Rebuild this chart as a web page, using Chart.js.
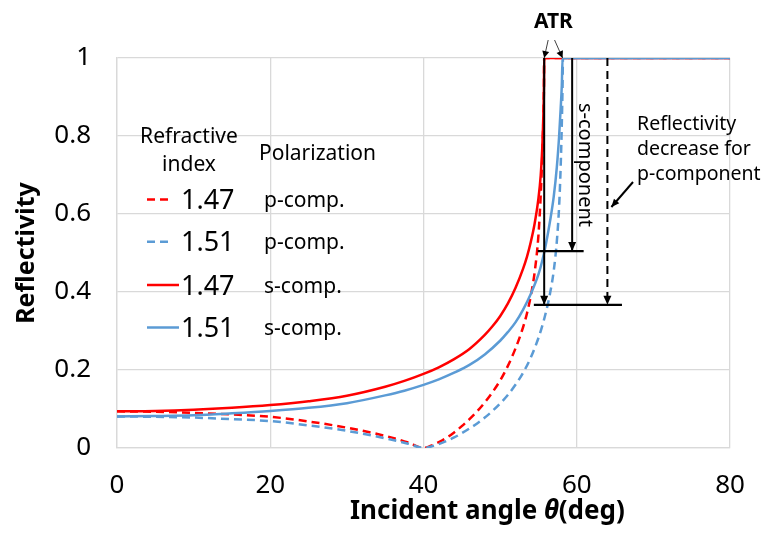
<!DOCTYPE html>
<html>
<head>
<meta charset="utf-8">
<script src="https://cdn.jsdelivr.net/npm/chart.js@4/dist/chart.umd.min.js"></script>
<style>
  html, body { margin: 0; padding: 0; background: #ffffff; }
  #wrap { width: 762px; height: 540px; }
</style>
</head>
<body>
<div id="wrap"><canvas id="c" width="762" height="540"></canvas></div>
<script>
// Reflectivity vs. incident angle for two refractive indices, p- and s-polarization

// n = 1.47, p-component
const angleP147 = [0, 5, 10, 15, 20, 25, 30, 35, 38, 40, 41, 42, 43, 44, 45, 46, 47, 48, 49, 50, 51, 52, 53, 53.5, 54, 54.5, 55, 55.3, 55.5, 55.65, 55.72, 55.75, 60, 70, 80];
const reflP147  = [0.094, 0.093, 0.090, 0.086, 0.080, 0.068, 0.052, 0.031, 0.014, 0.0, 0.006, 0.015, 0.026, 0.040, 0.056, 0.074, 0.094, 0.117, 0.143, 0.173, 0.210, 0.255, 0.310, 0.345, 0.390, 0.450, 0.545, 0.650, 0.750, 0.850, 0.930, 1, 1, 1, 1];

// n = 1.51, p-component
const angleP151 = [0, 5, 10, 15, 20, 25, 30, 35, 38, 40, 41, 42, 43, 44, 45, 46, 47, 48, 49, 50, 51, 52, 53, 54, 55, 55.5, 56, 56.5, 57, 57.4, 57.7, 57.9, 58.05, 58.15, 58.2, 60, 70, 80];
const reflP151  = [0.081, 0.080, 0.078, 0.074, 0.069, 0.058, 0.044, 0.025, 0.011, 0.0, 0.004, 0.010, 0.018, 0.027, 0.038, 0.050, 0.063, 0.078, 0.095, 0.114, 0.136, 0.162, 0.193, 0.232, 0.282, 0.313, 0.350, 0.395, 0.455, 0.530, 0.620, 0.720, 0.830, 0.930, 1, 1, 1, 1];

// n = 1.47, s-component
const angleS147 = [0, 5, 10, 15, 20, 25, 30, 35, 37.5, 40, 42, 44, 46, 48, 49, 50, 51, 52, 53, 53.5, 54, 54.5, 55, 55.3, 55.5, 55.65, 55.72, 55.75, 60, 70, 80];
const reflS147  = [0.094, 0.095, 0.098, 0.103, 0.110, 0.120, 0.134, 0.157, 0.172, 0.190, 0.207, 0.228, 0.254, 0.290, 0.312, 0.338, 0.370, 0.410, 0.460, 0.490, 0.528, 0.575, 0.640, 0.700, 0.770, 0.860, 0.930, 1, 1, 1, 1];

// n = 1.51, s-component
const angleS151 = [0, 5, 10, 15, 20, 25, 30, 35, 37.5, 40, 42, 44, 46, 48, 50, 51, 52, 53, 54, 55, 55.5, 56, 56.5, 57, 57.4, 57.7, 57.9, 58.05, 58.15, 60, 70, 80];
const reflS151  = [0.081, 0.082, 0.084, 0.089, 0.095, 0.103, 0.115, 0.135, 0.147, 0.162, 0.176, 0.193, 0.213, 0.240, 0.275, 0.297, 0.322, 0.355, 0.395, 0.445, 0.480, 0.525, 0.580, 0.645, 0.720, 0.800, 0.870, 0.930, 1, 1, 1, 1];

// Axis ticks
const xTicks = [0, 20, 40, 60, 80];
const yTicks = [0, 0.2, 0.4, 0.6, 0.8, 1];

// Legend rows: index label, polarization label
const legendIndex = ['1.47', '1.51', '1.47', '1.51'];
const legendPol   = ['p-comp.', 'p-comp.', 's-comp.', 's-comp.'];

// Annotation anchors (angle in deg, reflectivity)
const atrEdges   = [55.75, 58.15];
const sDrop      = { angle: 59.4, level: 0.505, bar: [54.9, 60.9] };
const pDrop      = { angle: 64.0, level: 0.367, bar: [54.4, 65.9] };

const RED = '#ff0000';
const BLUE = '#5b9bd5';
const FONT = '"Noto Sans", "Open Sans", sans-serif';

const pts = (xs, ys) => xs.map((v, i) => ({ x: v, y: ys[i] }));

const seriesStyle = (color, dashed, order) => ({
  borderColor: color,
  backgroundColor: color,
  borderWidth: 2.5,
  borderDash: dashed ? [8, 5] : [],
  pointRadius: 0,
  fill: false,
  cubicInterpolationMode: 'monotone',
  order: order
});

const datasets = [
  Object.assign({ label: '1.47 p-comp.', data: pts(angleP147, reflP147) }, seriesStyle(RED, true, 3)),
  Object.assign({ label: '1.51 p-comp.', data: pts(angleP151, reflP151) }, seriesStyle(BLUE, true, 2)),
  Object.assign({ label: '1.47 s-comp.', data: pts(angleS147, reflS147) }, seriesStyle(RED, false, 1)),
  Object.assign({ label: '1.51 s-comp.', data: pts(angleS151, reflS151) }, seriesStyle(BLUE, false, 0))
];

function arrowHead(ctx, x1, y1, x2, y2, len, half) {
  const a = Math.atan2(y2 - y1, x2 - x1);
  ctx.beginPath();
  ctx.moveTo(x2, y2);
  ctx.lineTo(x2 - len * Math.cos(a) + half * Math.sin(a), y2 - len * Math.sin(a) - half * Math.cos(a));
  ctx.lineTo(x2 - len * Math.cos(a) - half * Math.sin(a), y2 - len * Math.sin(a) + half * Math.cos(a));
  ctx.closePath();
  ctx.fill();
}

function arrow(ctx, x1, y1, x2, y2, width, dash, len, half) {
  ctx.save();
  ctx.lineWidth = width;
  ctx.setLineDash(dash || []);
  ctx.beginPath();
  ctx.moveTo(x1, y1);
  ctx.lineTo(x2, y2);
  ctx.stroke();
  ctx.setLineDash([]);
  arrowHead(ctx, x1, y1, x2, y2, len, half);
  ctx.restore();
}

const overlay = {
  id: 'overlay',
  afterDatasetsDraw(chart) {
    const ctx = chart.ctx;
    const xs = chart.scales.x, ys = chart.scales.y;
    const X = v => xs.getPixelForValue(v);
    const Y = v => ys.getPixelForValue(v);
    ctx.save();
    ctx.strokeStyle = '#000';
    ctx.fillStyle = '#000';

    // Drop from the 1.47 critical angle down to the p-component level
    arrow(ctx, X(atrEdges[0]), Y(1), X(atrEdges[0]), Y(pDrop.level), 2, null, 9, 4);
    // s-component decrease
    arrow(ctx, X(sDrop.angle), Y(1), X(sDrop.angle), Y(sDrop.level), 2, null, 9, 4);
    // p-component decrease (dashed)
    arrow(ctx, X(pDrop.angle), Y(1), X(pDrop.angle), Y(pDrop.level), 2, [8, 5], 9, 4);

    // Reference bars
    ctx.lineWidth = 2.2;
    ctx.beginPath();
    ctx.moveTo(X(sDrop.bar[0]), Y(sDrop.level));
    ctx.lineTo(X(sDrop.bar[1]), Y(sDrop.level));
    ctx.moveTo(X(pDrop.bar[0]), Y(pDrop.level));
    ctx.lineTo(X(pDrop.bar[1]), Y(pDrop.level));
    ctx.stroke();

    // ATR pointers
    ctx.strokeStyle = '#404040';
    arrow(ctx, X(atrEdges[0]) + 4, Y(1) - 18, X(atrEdges[0]), Y(1), 1, null, 7, 3.5);
    arrow(ctx, X(atrEdges[1]) - 8, Y(1) - 18, X(atrEdges[1]), Y(1), 1, null, 7, 3.5);
    ctx.fillStyle = '#000';
    ctx.font = 'bold 21px ' + FONT;
    ctx.textAlign = 'center';
    ctx.textBaseline = 'middle';
    ctx.fillText('ATR', (X(atrEdges[0]) + X(atrEdges[1])) / 2, 22);

    // s-component label (rotated)
    ctx.save();
    ctx.translate(585, 165);
    ctx.rotate(Math.PI / 2);
    ctx.font = '20px ' + FONT;
    ctx.fillText('s-component', 0, 0);
    ctx.restore();

    // p-component note
    ctx.font = '19.5px ' + FONT;
    ctx.textAlign = 'left';
    ctx.textBaseline = 'alphabetic';
    ctx.fillText('Reflectivity', 637, 130);
    ctx.fillText('decrease for', 637, 155);
    ctx.fillText('p-component', 637, 180);
    ctx.strokeStyle = '#000';
    arrow(ctx, 633, 182, X(pDrop.angle) + 4, 207, 2, null, 8, 3.5);

    // Legend block
    ctx.font = '21px ' + FONT;
    ctx.textAlign = 'center';
    ctx.fillText('Refractive', 189, 143);
    ctx.fillText('index', 189, 171);
    ctx.textAlign = 'left';
    ctx.fillText('Polarization', 259, 160);

    const rowY = [199.5, 241.8, 285, 327.5];
    chart.data.datasets.forEach((ds, i) => {
      const yy = rowY[i];
      ctx.save();
      ctx.strokeStyle = ds.borderColor;
      ctx.lineWidth = 2.5;
      ctx.setLineDash(ds.borderDash);
      ctx.beginPath();
      ctx.moveTo(147, yy);
      ctx.lineTo(ds.borderDash.length ? 172 : 179, yy);
      ctx.stroke();
      ctx.restore();
      ctx.fillStyle = '#000';
      ctx.font = '27px ' + FONT;
      ctx.fillText(legendIndex[i], 181, yy + 9.5);
      ctx.font = '21px ' + FONT;
      ctx.fillText(legendPol[i], 264, yy + 7.5);
    });

    // Axis titles
    ctx.save();
    ctx.translate(27, (chart.chartArea.top + chart.chartArea.bottom) / 2);
    ctx.rotate(-Math.PI / 2);
    ctx.font = 'bold 25px ' + FONT;
    ctx.textAlign = 'center';
    ctx.textBaseline = 'middle';
    ctx.fillText('Reflectivity', 0, 0);
    ctx.restore();

    let tx = 350;
    const by = 519;
    ctx.textAlign = 'left';
    ctx.textBaseline = 'alphabetic';
    ctx.font = 'bold 26px ' + FONT;
    ctx.fillText('Incident angle ', tx, by);
    tx += ctx.measureText('Incident angle ').width;
    ctx.font = 'italic bold 26px ' + FONT;
    ctx.fillText('\u03B8', tx, by);
    tx += ctx.measureText('\u03B8').width;
    ctx.font = 'bold 26px ' + FONT;
    ctx.fillText('(deg)', tx, by);

    ctx.restore();
  }
};

new Chart(document.getElementById('c'), {
  type: 'line',
  data: { datasets: datasets },
  plugins: [overlay],
  options: {
    responsive: false,
    devicePixelRatio: 1,
    animation: false,
    layout: { padding: { top: 58, right: 32, left: 0, bottom: 0 } },
    plugins: { legend: { display: false }, tooltip: { enabled: false } },
    scales: {
      x: {
        type: 'linear',
        min: xTicks[0],
        max: xTicks[xTicks.length - 1],
        afterBuildTicks: s => { s.ticks = xTicks.map(v => ({ value: v })); },
        afterFit: s => { s.height = 92; s.paddingLeft = 0; s.paddingRight = 0; },
        grid: { color: '#d9d9d9', lineWidth: 1.3, drawTicks: false },
        border: { color: '#d9d9d9', width: 1.3 },
        ticks: { color: '#000', font: { family: FONT, size: 26 }, padding: 22, maxRotation: 0 }
      },
      y: {
        type: 'linear',
        min: yTicks[0],
        max: yTicks[yTicks.length - 1],
        afterBuildTicks: s => { s.ticks = yTicks.map(v => ({ value: v })); },
        afterFit: s => { s.width = 117; s.paddingTop = 0; s.paddingBottom = 0; },
        grid: { color: '#d9d9d9', lineWidth: 1.3, drawTicks: false },
        border: { color: '#d9d9d9', width: 1.3 },
        ticks: {
          color: '#000',
          font: { family: FONT, size: 26 },
          padding: 26,
          callback: v => String(Math.round(v * 10) / 10)
        }
      }
    }
  }
});
</script>
</body>
</html>
